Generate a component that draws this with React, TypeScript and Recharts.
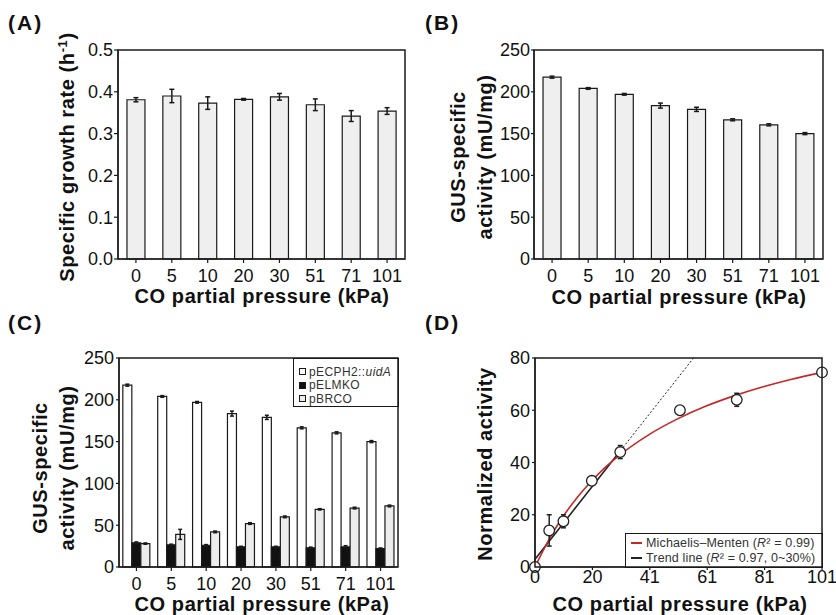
import React from "react";
import { BarChart, Bar, XAxis, YAxis, ErrorBar, ComposedChart, Line, Scatter } from "recharts";

// CO partial pressure categories (kPa)
const pressures = ["0", "5", "10", "20", "30", "51", "71", "101"];

// (A) specific growth rate (h-1)
const growthRate = [0.381, 0.39, 0.373, 0.382, 0.388, 0.369, 0.342, 0.354];
const growthErr = [0.005, 0.016, 0.015, 0.002, 0.008, 0.014, 0.013, 0.008];
const growthTicks = [0, 0.1, 0.2, 0.3, 0.4, 0.5];

// (B)/(C) GUS-specific activity (mU/mg)
const gusActivity = [217.5, 204, 197, 183.5, 179, 166.5, 160.5, 150];
const gusErr = [1.2, 1, 1, 3, 2.5, 1.2, 1.2, 1.2];
const elmkoActivity = [29, 26.5, 26, 24, 24, 23, 24, 22];
const elmkoErr = [1, 0.8, 0.8, 0.8, 0.8, 0.8, 1.5, 0.8];
const brcoActivity = [28, 39, 42, 52, 60, 69, 70.5, 73];
const brcoErr = [0.8, 6, 1, 1, 1, 0.8, 1, 1];
const gusTicks = [0, 50, 100, 150, 200, 250];

// (D) normalized activity vs CO partial pressure
const dPressure = [0, 5, 10, 20, 30, 51, 71, 101];
const normActivity = [0, 14, 17.5, 33, 44, 60, 64, 74.5];
const normErr = [0, 6, 2.5, 0.5, 2.5, 0.5, 2.5, 0];
const mmX = [0, 2.5, 5, 10, 15, 20, 25, 30, 40, 50, 60, 70, 80, 90, 101];
const mmY = [0, 5.5, 10.7, 19.5, 26.8, 33, 38.4, 43, 50.6, 56.6, 61.5, 65.5, 68.9, 71.8, 74.5];
const trendX = [0, 31];
const trendY = [3, 45.8];
const trendExtX = [31, 55.8];
const trendExtY = [45.8, 80];
const dXTicks = [0, 20.2, 40.4, 60.6, 80.8, 101];
const dXTickLabels = ["0", "20", "41", "61", "81", "101"];
const dYTicks = [0, 20, 40, 60, 80];

const FONT = "'Liberation Sans', Arial, Helvetica, sans-serif";
const INK = "#1a1a1a";
const tickStyle = { fill: "#111", fontSize: 18, fontFamily: FONT };
const axisLine = { stroke: INK, strokeWidth: 1.2 };
const tickLine = { stroke: INK, strokeWidth: 1.2 };
const X_AXIS_H = 30;

type Box = { left: number; top: number; width: number; height: number; margin: { top: number; right: number; bottom: number; left: number }; yW: number };

const boxA: Box = { left: 0, top: 0, width: 418, height: 310, margin: { top: 50, right: 13, bottom: 21, left: 0 }, yW: 118 };
const boxB: Box = { left: 418, top: 0, width: 418, height: 310, margin: { top: 50, right: 13, bottom: 21, left: 0 }, yW: 116 };
const boxC: Box = { left: 0, top: 310, width: 418, height: 305, margin: { top: 48, right: 20, bottom: 18, left: 0 }, yW: 119 };
const boxD: Box = { left: 418, top: 310, width: 418, height: 305, margin: { top: 48, right: 14, bottom: 18, left: 0 }, yW: 117 };

// one overlay for all four plot boxes, laid on top of everything
function PlotFrames({ boxes }: { boxes: Box[] }) {
  return (
    <svg style={{ position: "absolute", left: 0, top: 0, zIndex: 5, pointerEvents: "none" }} width={836} height={615}>
      {boxes.map((b, i) => {
        const x = b.left + b.margin.left + b.yW;
        const y = b.top + b.margin.top;
        const w = b.width - b.margin.left - b.margin.right - b.yW;
        const h = b.height - b.margin.top - b.margin.bottom - X_AXIS_H;
        return <rect key={i} x={x} y={y} width={w} height={h} fill="none" stroke={INK} strokeWidth={1.5} />;
      })}
    </svg>
  );
}

function VTitle({ cx, cy, children }: { cx: number; cy: number; children: React.ReactNode }) {
  return (
    <div
      style={{
        position: "absolute",
        left: cx,
        top: cy,
        transform: "translate(-50%, -50%) rotate(-90deg)",
        whiteSpace: "nowrap",
        textAlign: "center",
        fontWeight: "bold",
        fontSize: 20,
        lineHeight: "27px",
        letterSpacing: 0.6,
      }}
    >
      {children}
    </div>
  );
}

function HTitle({ cx, top, children }: { cx: number; top: number; children: React.ReactNode }) {
  return (
    <div
      style={{
        position: "absolute",
        left: cx,
        top,
        transform: "translateX(-50%)",
        whiteSpace: "nowrap",
        fontWeight: "bold",
        fontSize: 20,
        lineHeight: "20px",
        letterSpacing: 0.6,
      }}
    >
      {children}
    </div>
  );
}

function PanelTag({ left, top, text }: { left: number; top: number; text: string }) {
  return (
    <div style={{ position: "absolute", left, top, fontWeight: "bold", fontSize: 21, lineHeight: "21px", letterSpacing: 2 }}>
      {text}
    </div>
  );
}

const cLegend = [
  { label: <>pECPH2::<i>uidA</i></>, fill: "#ffffff" },
  { label: <>pELMKO</>, fill: "#111111" },
  { label: <>pBRCO</>, fill: "#ececec" },
];

const dLegend = [
  { label: <>Michaelis–Menten (<i>R</i>² = 0.99)</>, color: "#c62828" },
  { label: <>Trend line (<i>R</i>² = 0.97, 0~30%)</>, color: "#222222" },
];

export default function App() {
  const barData = pressures.map((name, i) => ({
    name,
    rate: growthRate[i],
    rateErr: growthErr[i],
    gus: gusActivity[i],
    gusErr: gusErr[i],
    elmko: elmkoActivity[i],
    elmkoErr: elmkoErr[i],
    brco: brcoActivity[i],
    brcoErr: brcoErr[i],
  }));
  const points = dPressure.map((x, i) => ({ x, y: normActivity[i], err: normErr[i] }));
  const mmCurve = mmX.map((x, i) => ({ x, y: mmY[i] }));
  const trend = trendX.map((x, i) => ({ x, y: trendY[i] }));
  const trendExt = trendExtX.map((x, i) => ({ x, y: trendExtY[i] }));

  return (
    <div
      style={{
        position: "absolute",
        left: 0,
        top: 0,
        width: 836,
        height: 615,
        background: "#fff",
        fontFamily: FONT,
        color: "#111",
        overflow: "hidden",
      }}
    >
      {/* (A) */}
      <div style={{ position: "absolute", left: boxA.left, top: boxA.top }}>
        <BarChart width={boxA.width} height={boxA.height} data={barData} margin={boxA.margin} barCategoryGap="25%">
          <XAxis dataKey="name" interval={0} height={X_AXIS_H} tick={tickStyle} tickSize={4} tickMargin={6} axisLine={axisLine} tickLine={tickLine} />
          <YAxis width={boxA.yW} domain={[0, 0.5]} ticks={growthTicks} tickFormatter={(v: number) => v.toFixed(1)} tick={tickStyle} tickSize={4} tickMargin={1} axisLine={axisLine} tickLine={tickLine} />
          <Bar dataKey="rate" fill="#efefef" stroke={INK} strokeWidth={1.2} isAnimationActive={false}>
            <ErrorBar dataKey="rateErr" width={2.5} stroke={INK} strokeWidth={1.5} />
          </Bar>
        </BarChart>
      </div>
      <PanelTag left={8} top={12} text="(A)" />
      <VTitle cx={68} cy={157}>
        Specific growth rate (h<span style={{ fontSize: 13, position: "relative", top: -7 }}>-1</span>)
      </VTitle>
      <HTitle cx={262} top={286}>CO partial pressure (kPa)</HTitle>

      {/* (B) */}
      <div style={{ position: "absolute", left: boxB.left, top: boxB.top }}>
        <BarChart width={boxB.width} height={boxB.height} data={barData} margin={boxB.margin} barCategoryGap="25%">
          <XAxis dataKey="name" interval={0} height={X_AXIS_H} tick={tickStyle} tickSize={4} tickMargin={6} axisLine={axisLine} tickLine={tickLine} />
          <YAxis width={boxB.yW} domain={[0, 250]} ticks={gusTicks} tick={tickStyle} tickSize={3} tickMargin={1} axisLine={axisLine} tickLine={tickLine} />
          <Bar dataKey="gus" fill="#efefef" stroke={INK} strokeWidth={1.2} isAnimationActive={false}>
            <ErrorBar dataKey="gusErr" width={2.5} stroke={INK} strokeWidth={1.5} />
          </Bar>
        </BarChart>
      </div>
      <PanelTag left={425} top={12} text="(B)" />
      <VTitle cx={472} cy={157}>
        GUS-specific
        <br />
        activity (mU/mg)
      </VTitle>
      <HTitle cx={679} top={287}>CO partial pressure (kPa)</HTitle>

      {/* (C) */}
      <div style={{ position: "absolute", left: boxC.left, top: boxC.top }}>
        <BarChart width={boxC.width} height={boxC.height} data={barData} margin={boxC.margin} barCategoryGap="11%" barGap={0}>
          <XAxis dataKey="name" interval={0} height={X_AXIS_H} tick={tickStyle} tickSize={4} tickMargin={6} axisLine={axisLine} tickLine={tickLine} />
          <YAxis width={boxC.yW} domain={[0, 250]} ticks={gusTicks} tick={tickStyle} tickSize={3} tickMargin={2} axisLine={axisLine} tickLine={tickLine} />
          <Bar dataKey="gus" fill="#ffffff" stroke={INK} strokeWidth={1.2} isAnimationActive={false}>
            <ErrorBar dataKey="gusErr" width={2} stroke={INK} strokeWidth={1.5} />
          </Bar>
          <Bar dataKey="elmko" fill="#111111" stroke={INK} strokeWidth={1.2} isAnimationActive={false}>
            <ErrorBar dataKey="elmkoErr" width={2} stroke={INK} strokeWidth={1.5} />
          </Bar>
          <Bar dataKey="brco" fill="#ececec" stroke={INK} strokeWidth={1.2} isAnimationActive={false}>
            <ErrorBar dataKey="brcoErr" width={2} stroke={INK} strokeWidth={1.5} />
          </Bar>
        </BarChart>
      </div>
      <div
        style={{
          position: "absolute",
          left: 293,
          top: 358,
          width: 106,
          height: 49,
          border: `1px solid ${INK}`,
          boxSizing: "border-box",
          padding: "6px 0 0 5px",
          fontSize: 12,
          letterSpacing: 0.4,
          color: "#333",
          background: "#fff",
        }}
      >
        {cLegend.map((e, i) => (
          <div key={i} style={{ display: "flex", alignItems: "center", height: 13.5, whiteSpace: "nowrap" }}>
            <span style={{ width: 5, height: 5, border: `1px solid ${INK}`, background: e.fill, marginRight: 3, flex: "none" }} />
            <span>{e.label}</span>
          </div>
        ))}
      </div>
      <PanelTag left={8} top={312} text="(C)" />
      <VTitle cx={54} cy={468}>
        GUS-specific
        <br />
        activity (mU/mg)
      </VTitle>
      <HTitle cx={262} top={594}>CO partial pressure (kPa)</HTitle>

      {/* (D) */}
      <div style={{ position: "absolute", left: boxD.left, top: boxD.top }}>
        <ComposedChart width={boxD.width} height={boxD.height} margin={boxD.margin}>
          <XAxis
            type="number"
            dataKey="x"
            domain={[0, 101]}
            ticks={dXTicks}
            tickFormatter={(_v: number, i: number) => dXTickLabels[i]}
            interval={0}
            height={X_AXIS_H}
            tick={tickStyle}
            tickSize={3}
            tickMargin={0}
            axisLine={axisLine}
            tickLine={tickLine}
          />
          <YAxis width={boxD.yW} domain={[0, 80]} ticks={dYTicks} tick={tickStyle} tickSize={3} tickMargin={2} axisLine={axisLine} tickLine={tickLine} />
          <Line data={trendExt} dataKey="y" type="linear" stroke="#222" strokeWidth={1} strokeDasharray="2 2" dot={false} isAnimationActive={false} />
          <Line data={trend} dataKey="y" type="linear" stroke="#222" strokeWidth={1.6} dot={false} isAnimationActive={false} />
          <Line data={mmCurve} dataKey="y" type="monotone" stroke="#c62828" strokeWidth={1.6} dot={false} isAnimationActive={false} />
          <Scatter
            data={points}
            dataKey="y"
            isAnimationActive={false}
            shape={(p: any) => <circle cx={p.cx} cy={p.cy} r={5.3} fill="#fff" stroke="#222" strokeWidth={1.3} />}
          >
            <ErrorBar dataKey="err" direction="y" width={2.5} stroke="#222" strokeWidth={1.5} />
          </Scatter>
        </ComposedChart>
      </div>
      <div
        style={{
          position: "absolute",
          left: 625,
          top: 533,
          width: 198,
          height: 35,
          border: `1px solid ${INK}`,
          boxSizing: "border-box",
          padding: "2px 0 0 5px",
          fontSize: 12.5,
          letterSpacing: 0.15,
          color: "#333",
          background: "#fff",
        }}
      >
        {dLegend.map((e, i) => (
          <div key={i} style={{ display: "flex", alignItems: "center", height: 14.5, whiteSpace: "nowrap" }}>
            <span style={{ width: 11, height: 2, background: e.color, marginRight: 4, flex: "none" }} />
            <span>{e.label}</span>
          </div>
        ))}
      </div>
      <PanelTag left={425} top={312} text="(D)" />
      <VTitle cx={485} cy={464}>Normalized activity</VTitle>
      <HTitle cx={680} top={594}>CO partial pressure (kPa)</HTitle>

      <PlotFrames boxes={[boxA, boxB, boxC, boxD]} />
    </div>
  );
}
